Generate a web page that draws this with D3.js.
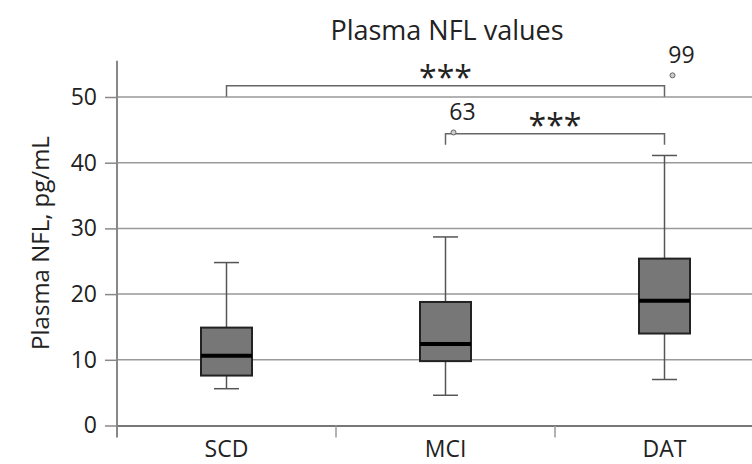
<!DOCTYPE html>
<html>
<head>
<meta charset="utf-8">
<script src="https://cdn.jsdelivr.net/npm/d3@7"></script>
<style>
  body { margin: 0; background: #fff; }
  text { font-family: "Open Sans", sans-serif; fill: #222; }
</style>
</head>
<body>
<svg id="chart" width="752" height="464"></svg>
<script>
// values
var categories = ["SCD", "MCI", "DAT"];
var whiskerLow = [5.6, 4.6, 7.0];
var q1 = [7.6, 9.8, 14.0];
var medians = [10.6, 12.4, 19.0];
var q3 = [14.9, 18.8, 25.4];
var whiskerHigh = [24.8, 28.7, 41.1];
var outlierGroups = ["MCI", "DAT"];
var outlierValues = [44.6, 53.3];
var outlierLabels = ["63", "99"];
var bracketFrom = ["SCD", "MCI"];
var bracketTo = ["DAT", "DAT"];
var bracketValues = [51.7, 44.4];
var bracketLabels = ["***", "***"];
var yTicks = [0, 10, 20, 30, 40, 50];

var svg = d3.select('#chart');

var left = 117, right = 774, bottom = 425.5;
var x = d3.scaleBand().domain(categories).range([left, right]).padding(0);
var y = d3.scaleLinear().domain([0, 50]).range([bottom, 97]);

var boxW = 51, capW = 25, outDx = 8, legH = 11;
var cx = function(c) { return x(c) + x.bandwidth() / 2; };

// title
svg.append('text')
	.attr('x', 447).attr('y', 40)
	.attr('text-anchor', 'middle')
	.style('font-size', '27px')
	.text('Plasma NFL values');

// y axis label
svg.append('text')
	.attr('transform', 'translate(49,243) rotate(-90)')
	.attr('text-anchor', 'middle')
	.style('font-size', '24px')
	.text('Plasma NFL, pg/mL');

// gridlines + y axis
var yAxis = svg.append('g')
	.attr('transform', `translate(${left},0)`)
	.call(d3.axisLeft(y).tickValues(yTicks).tickSize(12).tickPadding(8));
yAxis.select('.domain').remove();
yAxis.selectAll('.tick line').attr('stroke', '#888').attr('stroke-width', 1.5);
yAxis.selectAll('.tick text').style('font-size', '23px').style('font-family', '"Open Sans", sans-serif').attr('fill', '#222');

svg.append('g').selectAll('line')
	.data(yTicks.filter(function(d) { return d > 0; }))
	.join('line')
	.attr('x1', left).attr('x2', 752)
	.attr('y1', function(d) { return y(d); })
	.attr('y2', function(d) { return y(d); })
	.attr('stroke', '#999').attr('stroke-width', 1.5);

// axis lines
svg.append('line')
	.attr('x1', left).attr('x2', left)
	.attr('y1', y(55.5)).attr('y2', bottom + 12)
	.attr('stroke', '#888').attr('stroke-width', 2);

var xAxis = svg.append('g')
	.attr('transform', `translate(0,${bottom})`)
	.call(d3.axisBottom(x).tickSize(0).tickPadding(15));
xAxis.select('.domain').attr('stroke', '#777').attr('stroke-width', 2);
xAxis.selectAll('.tick text').style('font-size', '23px').style('font-family', '"Open Sans", sans-serif').attr('fill', '#222');

// category separators on the x axis
svg.append('g').selectAll('line')
	.data(categories.slice(1))
	.join('line')
	.attr('x1', function(d) { return x(d); })
	.attr('x2', function(d) { return x(d); })
	.attr('y1', bottom).attr('y2', bottom + 12)
	.attr('stroke', '#999').attr('stroke-width', 1.5);

// boxes
var boxes = svg.append('g').selectAll('g')
	.data(categories)
	.join('g');

boxes.append('line')
	.attr('x1', cx).attr('x2', cx)
	.attr('y1', function(d, i) { return y(whiskerLow[i]); })
	.attr('y2', function(d, i) { return y(whiskerHigh[i]); })
	.attr('stroke', '#555').attr('stroke-width', 1.5);

boxes.selectAll('.cap')
	.data(function(d, i) { return [[d, whiskerLow[i]], [d, whiskerHigh[i]]]; })
	.join('line')
	.attr('class', 'cap')
	.attr('x1', function(d) { return cx(d[0]) - capW / 2; })
	.attr('x2', function(d) { return cx(d[0]) + capW / 2; })
	.attr('y1', function(d) { return y(d[1]); })
	.attr('y2', function(d) { return y(d[1]); })
	.attr('stroke', '#555').attr('stroke-width', 1.5);

boxes.append('rect')
	.attr('x', function(d) { return cx(d) - boxW / 2; })
	.attr('width', boxW)
	.attr('y', function(d, i) { return y(q3[i]); })
	.attr('height', function(d, i) { return y(q1[i]) - y(q3[i]); })
	.attr('fill', '#777')
	.attr('stroke', '#222').attr('stroke-width', 2);

boxes.append('line')
	.attr('x1', function(d) { return cx(d) - boxW / 2; })
	.attr('x2', function(d) { return cx(d) + boxW / 2; })
	.attr('y1', function(d, i) { return y(medians[i]); })
	.attr('y2', function(d, i) { return y(medians[i]); })
	.attr('stroke', '#000').attr('stroke-width', 4);

// significance brackets
var br = svg.append('g').selectAll('g')
	.data(bracketValues)
	.join('g');

br.append('path')
	.attr('d', function(d, i) {
		var x1 = cx(bracketFrom[i]), x2 = cx(bracketTo[i]), yy = y(d);
		return `M${x1},${yy + legH}V${yy}H${x2}V${yy + legH}`;
	})
	.attr('fill', 'none')
	.attr('stroke', '#666').attr('stroke-width', 1.5);

br.append('text')
	.attr('x', function(d, i) { return (cx(bracketFrom[i]) + cx(bracketTo[i])) / 2; })
	.attr('y', function(d) { return y(d) + 3; })
	.attr('text-anchor', 'middle')
	.style('font-size', '32px')
	.attr('fill', '#333')
	.text(function(d, i) { return bracketLabels[i]; });

// outliers
var outs = svg.append('g').selectAll('g')
	.data(outlierValues)
	.join('g');

outs.append('circle')
	.attr('cx', function(d, i) { return cx(outlierGroups[i]) + outDx; })
	.attr('cy', function(d) { return y(d); })
	.attr('r', 2.5)
	.attr('fill', '#ccc')
	.attr('stroke', '#666').attr('stroke-width', 1);

outs.append('text')
	.attr('x', function(d, i) { return cx(outlierGroups[i]) + outDx + 9; })
	.attr('y', function(d) { return y(d) - 12; })
	.attr('text-anchor', 'middle')
	.style('font-size', '23px')
	.text(function(d, i) { return outlierLabels[i]; });
</script>
</body>
</html>
